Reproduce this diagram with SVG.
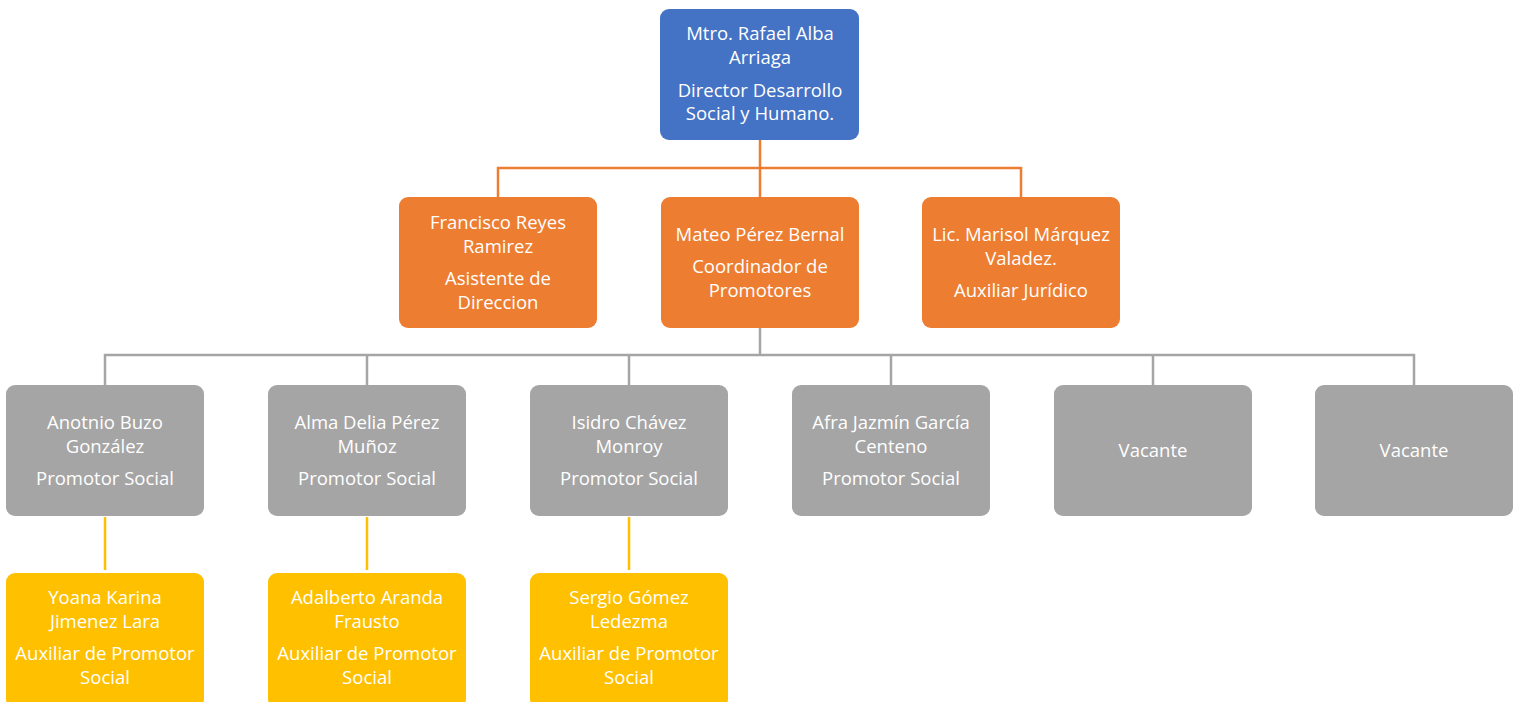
<svg xmlns="http://www.w3.org/2000/svg" width="1521" height="702" viewBox="0 0 1521 702">
<style>
.t{font-family:"Open Sans","Liberation Sans",Arial,sans-serif;font-size:18.5px;fill:#ffffff;text-anchor:middle}
.blue{fill:#4472C4}
.orange{fill:#ED7D31}
.grey{fill:#A5A5A5}
.yellow{fill:#FFC000}
.lo{stroke:#ED7D31;stroke-width:2.5;fill:none}
.lg{stroke:#A5A5A5;stroke-width:2.5;fill:none}
.ly{stroke:#FFC000;stroke-width:2.5;fill:none}
</style>
<rect width="1521" height="702" fill="#ffffff"/>
<g id="connectors">
<path class="lo" d="M760 140 V197 M498 197 V168 H1021 V197"/>
<path class="lg" d="M760 328 V355 M105 385 V355 H1414 V385 M367 355 V385 M629 355 V385 M891 355 V385 M1153 355 V385"/>
<path class="ly" d="M105 517 V570 M367 517 V570 M629 517 V570"/>
</g>
<g id="n-director">
<rect class="blue" x="660" y="9" width="199" height="131" rx="9"/>
<text class="t" x="760" y="40">Mtro. Rafael Alba</text>
<text class="t" x="760" y="64">Arriaga</text>
<text class="t" x="760" y="97">Director Desarrollo</text>
<text class="t" x="760" y="120">Social y Humano.</text>
</g>
<g id="n-francisco">
<rect class="orange" x="399" y="197" width="198" height="131" rx="9"/>
<text class="t" x="498" y="229">Francisco Reyes</text>
<text class="t" x="498" y="253">Ramirez</text>
<text class="t" x="498" y="285">Asistente de</text>
<text class="t" x="498" y="309">Direccion</text>
</g>
<g id="n-mateo">
<rect class="orange" x="661" y="197" width="198" height="131" rx="9"/>
<text class="t" x="760" y="241">Mateo Pérez Bernal</text>
<text class="t" x="760" y="273">Coordinador de</text>
<text class="t" x="760" y="297">Promotores</text>
</g>
<g id="n-marisol">
<rect class="orange" x="922" y="197" width="198" height="131" rx="9"/>
<text class="t" x="1021" y="241">Lic. Marisol Márquez</text>
<text class="t" x="1021" y="265">Valadez.</text>
<text class="t" x="1021" y="297">Auxiliar Jurídico</text>
</g>
<g id="n-anotnio">
<rect class="grey" x="6" y="385" width="198" height="131" rx="9"/>
<text class="t" x="105" y="429">Anotnio Buzo</text>
<text class="t" x="105" y="453">González</text>
<text class="t" x="105" y="485">Promotor Social</text>
</g>
<g id="n-alma">
<rect class="grey" x="268" y="385" width="198" height="131" rx="9"/>
<text class="t" x="367" y="429">Alma Delia Pérez</text>
<text class="t" x="367" y="453">Muñoz</text>
<text class="t" x="367" y="485">Promotor Social</text>
</g>
<g id="n-isidro">
<rect class="grey" x="530" y="385" width="198" height="131" rx="9"/>
<text class="t" x="629" y="429">Isidro Chávez</text>
<text class="t" x="629" y="453">Monroy</text>
<text class="t" x="629" y="485">Promotor Social</text>
</g>
<g id="n-afra">
<rect class="grey" x="792" y="385" width="198" height="131" rx="9"/>
<text class="t" x="891" y="429">Afra Jazmín García</text>
<text class="t" x="891" y="453">Centeno</text>
<text class="t" x="891" y="485">Promotor Social</text>
</g>
<g id="n-vacante1">
<rect class="grey" x="1054" y="385" width="198" height="131" rx="9"/>
<text class="t" x="1153" y="457">Vacante</text>
</g>
<g id="n-vacante2">
<rect class="grey" x="1315" y="385" width="198" height="131" rx="9"/>
<text class="t" x="1414" y="457">Vacante</text>
</g>
<g id="n-yoana">
<rect class="yellow" x="6" y="573" width="198" height="135" rx="9"/>
<text class="t" x="105" y="604">Yoana Karina</text>
<text class="t" x="105" y="628">Jimenez Lara</text>
<text class="t" x="105" y="660">Auxiliar de Promotor</text>
<text class="t" x="105" y="684">Social</text>
</g>
<g id="n-adalberto">
<rect class="yellow" x="268" y="573" width="198" height="135" rx="9"/>
<text class="t" x="367" y="604">Adalberto Aranda</text>
<text class="t" x="367" y="628">Frausto</text>
<text class="t" x="367" y="660">Auxiliar de Promotor</text>
<text class="t" x="367" y="684">Social</text>
</g>
<g id="n-sergio">
<rect class="yellow" x="530" y="573" width="198" height="135" rx="9"/>
<text class="t" x="629" y="604">Sergio Gómez</text>
<text class="t" x="629" y="628">Ledezma</text>
<text class="t" x="629" y="660">Auxiliar de Promotor</text>
<text class="t" x="629" y="684">Social</text>
</g>
</svg>
